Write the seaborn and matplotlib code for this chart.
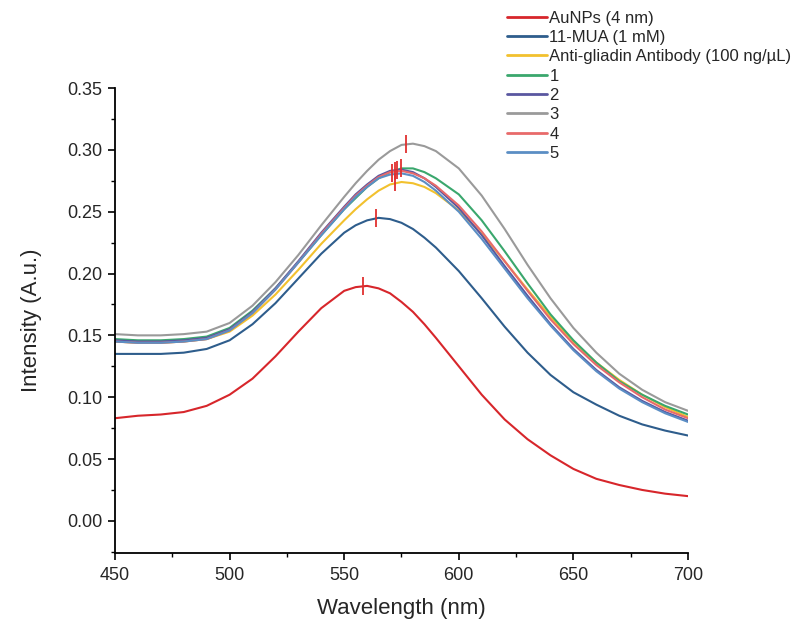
import matplotlib
matplotlib.use("Agg")
import matplotlib.pyplot as plt
from matplotlib.ticker import MultipleLocator
import seaborn as sns
import pandas as pd

wavelength = [450, 460, 470, 480, 490, 500, 510, 520, 530, 540, 550, 555, 560, 565, 570,
              575, 580, 585, 590, 600, 610, 620, 630, 640, 650, 660, 670, 680, 690, 700]

series_names = ["AuNPs (4 nm)", "11-MUA (1 mM)", "Anti-gliadin Antibody (100 ng/µL)",
                "1", "2", "3", "4", "5"]

aunps = [.083, .085, .086, .088, .093, .102, .115, .133, .153, .172, .186, .189, .190, .188, .184,
         .177, .169, .159, .148, .125, .102, .082, .066, .053, .042, .034, .029, .025, .022, .020]
mua = [.135, .135, .135, .136, .139, .146, .159, .176, .196, .216, .233, .239, .243, .245, .244,
       .241, .236, .229, .221, .202, .180, .157, .136, .118, .104, .094, .085, .078, .073, .069]
antibody = [.145, .144, .144, .145, .147, .153, .166, .183, .203, .224, .243, .252, .260, .267, .272,
            .274, .273, .270, .265, .251, .232, .210, .187, .165, .145, .128, .114, .102, .092, .084]
s1 = [.147, .146, .146, .147, .149, .156, .170, .188, .209, .231, .252, .261, .270, .277, .282,
      .285, .285, .282, .277, .264, .243, .218, .192, .167, .146, .128, .113, .102, .093, .086]
s2 = [.146, .145, .145, .146, .148, .155, .169, .188, .210, .233, .254, .264, .272, .279, .283,
      .284, .282, .277, .270, .253, .231, .206, .182, .159, .139, .122, .108, .097, .088, .081]
s3 = [.151, .150, .150, .151, .153, .160, .174, .193, .215, .239, .262, .273, .283, .292, .299,
      .304, .305, .303, .299, .285, .263, .236, .207, .180, .156, .136, .119, .106, .096, .089]
s4 = [.145, .144, .144, .145, .147, .154, .168, .187, .209, .232, .253, .263, .271, .278, .282,
      .283, .281, .277, .271, .255, .234, .210, .186, .163, .143, .126, .112, .100, .090, .083]
s5 = [.145, .144, .144, .145, .147, .154, .168, .187, .209, .231, .252, .262, .270, .277, .280,
      .281, .279, .274, .267, .250, .228, .204, .180, .158, .138, .121, .107, .096, .087, .080]

peak_wl = [558, 564, 572, 575, 573, 577, 572, 571]
peak_val = [0.190, 0.245, 0.274, 0.285, 0.284, 0.305, 0.283, 0.281]

colors = ["#d7262b", "#2e5d8c", "#f2c12e", "#3aa76d", "#5a57a0", "#9a9a9a", "#e86a6a", "#5b8ec4"]

all_vals = [aunps, mua, antibody, s1, s2, s3, s4, s5]
rows = []
for name, vals in zip(series_names, all_vals):
    for w, v in zip(wavelength, vals):
        rows.append({"Wavelength": w, "Intensity": v, "Sample": name})
df = pd.DataFrame(rows)

sns.set_style("ticks")
plt.rcParams["font.family"] = ["Liberation Sans", "DejaVu Sans"]

fig = plt.figure(figsize=(8.08, 6.22), dpi=100)
ax = fig.add_axes([0.1423, 0.1109, 0.7092, 0.7476])

sns.lineplot(data=df, x="Wavelength", y="Intensity", hue="Sample", hue_order=series_names,
             palette=colors, linewidth=1.5, ax=ax, legend=True)

ax.scatter(peak_wl, peak_val, marker="|", s=170, color="#e0302f", linewidths=1.3, zorder=5)

leg = ax.get_legend()
handles = leg.legend_handles
labels = [t.get_text() for t in leg.get_texts()]
leg.remove()
for h in handles:
    h.set_linewidth(2.0)
fig.legend(handles, labels, loc="upper left", bbox_to_anchor=(0.627, 0.983),
           frameon=False, fontsize=12, handlelength=2.45, handletextpad=0.12,
           labelspacing=0.26, borderpad=0, borderaxespad=0)

ax.set_xlim(450, 700)
ax.set_ylim(-0.026, 0.35)
ax.xaxis.set_major_locator(MultipleLocator(50))
ax.xaxis.set_minor_locator(MultipleLocator(25))
ax.yaxis.set_major_locator(MultipleLocator(0.05))
ax.yaxis.set_minor_locator(MultipleLocator(0.025))
ax.set_yticks([0, 0.05, 0.10, 0.15, 0.20, 0.25, 0.30, 0.35])
ax.set_yticklabels(["0.00", "0.05", "0.10", "0.15", "0.20", "0.25", "0.30", "0.35"])
ax.tick_params(axis="both", which="major", direction="out", length=5, width=1.2,
               labelsize=13, color="black")
ax.tick_params(axis="x", which="major", pad=5)
ax.tick_params(axis="y", which="major", pad=4)
ax.tick_params(axis="both", which="minor", direction="out", length=3, width=1.0, color="black")
sns.despine(ax=ax)
for sp in ["left", "bottom"]:
    ax.spines[sp].set_linewidth(1.3)
    ax.spines[sp].set_color("black")

ax.set_xlabel("Wavelength (nm)", fontsize=16, labelpad=10)
ax.set_ylabel("Intensity (A.u.)", fontsize=16, labelpad=18)

fig.savefig("out.png", dpi=100)
